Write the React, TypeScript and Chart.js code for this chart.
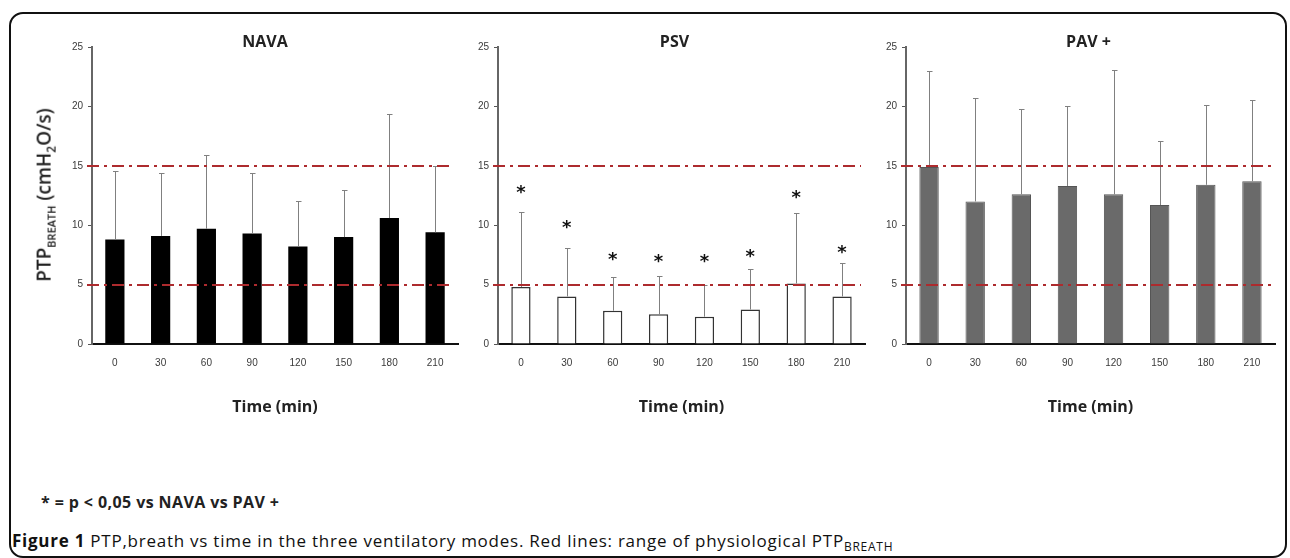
import React, { useEffect, useRef } from "react";
import { Chart, registerables } from "chart.js";

Chart.register(...registerables);

// ---- data ----
const timeLabels = ["0", "30", "60", "90", "120", "150", "180", "210"];
const yTicks = [0, 5, 10, 15, 20, 25];
const physioRange = [5, 15];

const navaMean = [8.8, 9.1, 9.7, 9.3, 8.2, 9.0, 10.6, 9.4];
const navaUpper = [14.6, 14.4, 15.9, 14.4, 12.0, 13.0, 19.4, 15.0];

const psvMean = [4.8, 4.0, 2.8, 2.5, 2.3, 2.9, 5.1, 4.0];
const psvUpper = [11.1, 8.1, 5.6, 5.7, 5.0, 6.3, 11.0, 6.8];
const psvStar = [13.0, 10.1, 7.4, 7.2, 7.2, 7.6, 12.6, 8.0];

const pavMean = [14.9, 12.0, 12.6, 13.3, 12.6, 11.7, 13.4, 13.7];
const pavUpper = [23.0, 20.7, 19.8, 20.0, 23.1, 17.1, 20.1, 20.5];

const FONT = '"Open Sans", "Liberation Sans", sans-serif';
const TICK_FONT = '"Liberation Sans", sans-serif';

const overlayPlugin = {
  id: "overlay",
  afterDatasetsDraw(chart: any, _args: any, opts: any) {
    const { ctx, chartArea, scales } = chart;
    const x = scales.x;
    const y = scales.y;
    ctx.save();
    // error bars
    ctx.strokeStyle = "#808080";
    ctx.lineWidth = 1;
    (opts.upper || []).forEach((u: number, i: number) => {
      const px = Math.round(x.getPixelForValue(i)) + 0.5;
      const py0 = y.getPixelForValue(opts.mean[i]);
      const py1 = Math.round(y.getPixelForValue(u)) + 0.5;
      ctx.beginPath();
      ctx.moveTo(px, py0);
      ctx.lineTo(px, py1);
      ctx.moveTo(px - 2.5, py1);
      ctx.lineTo(px + 3, py1);
      ctx.stroke();
    });
    // physiological range lines
    ctx.strokeStyle = "#ad2b2e";
    ctx.lineWidth = 2;
    ctx.setLineDash([12, 5, 3, 5]);
    (opts.lines || []).forEach((v: number) => {
      const py = Math.round(y.getPixelForValue(v));
      ctx.beginPath();
      ctx.moveTo(chartArea.left - 5, py);
      ctx.lineTo(chartArea.right - 4, py);
      ctx.stroke();
    });
    ctx.setLineDash([]);
    // significance stars
    if (opts.stars) {
      ctx.fillStyle = "#111";
      ctx.font = 'bold 18px "DejaVu Sans", sans-serif';
      ctx.textAlign = "center";
      ctx.textBaseline = "middle";
      opts.stars.forEach((v: number, i: number) => {
        const px = x.getPixelForValue(i);
        const py = y.getPixelForValue(v);
        ctx.fillText("*", px, py + 4);
      });
    }
    // panel title
    if (opts.title) {
      ctx.fillStyle = "#222";
      ctx.font = `bold 16px ${FONT}`;
      ctx.textAlign = "center";
      ctx.textBaseline = "middle";
      ctx.fillText(opts.title, (chartArea.left + chartArea.right) / 2 + (opts.titleDx || 0), 42);
    }
    ctx.restore();
  },
};

type PanelCfg = {
  title: string;
  titleDx: number;
  mean: number[];
  upper: number[];
  stars?: number[];
  fill: string;
  border: string;
  borderWidth: number;
  yWidth: number;
  padRight: number;
};

function makeChart(canvas: HTMLCanvasElement, cfg: PanelCfg) {
  return new Chart(canvas, {
    type: "bar",
    data: {
      labels: timeLabels,
      datasets: [
        {
          data: cfg.mean,
          backgroundColor: cfg.fill,
          borderColor: cfg.border,
          borderWidth: cfg.borderWidth,
          barPercentage: 0.42,
          categoryPercentage: 1,
        },
      ],
    },
    options: {
      responsive: false,
      animation: false,
      layout: { padding: { left: 0, right: cfg.padRight, top: 47, bottom: 0 } },
      plugins: {
        legend: { display: false },
        tooltip: { enabled: false },
        title: { display: false },
        overlay: {
          mean: cfg.mean,
          upper: cfg.upper,
          lines: physioRange,
          stars: cfg.stars,
          title: cfg.title,
          titleDx: cfg.titleDx,
        },
      } as any,
      scales: {
        x: {
          type: "category",
          grid: { display: false, drawTicks: false },
          border: { display: true, color: "#111", width: 2 },
          ticks: { color: "#3a3a3a", font: { family: TICK_FONT, size: 10 }, padding: 13, maxRotation: 0 },
          title: {
            display: true,
            text: "Time (min)",
            color: "#222",
            font: { family: FONT, size: 16, weight: "bold" },
            padding: { top: 0, bottom: 13 },
          },
          afterFit: (s: any) => {
            s.height = 86;
          },
        },
        y: {
          min: 0,
          max: 25,
          afterBuildTicks: (s: any) => {
            s.ticks = yTicks.map((v) => ({ value: v }));
          },
          grid: { drawOnChartArea: false, drawTicks: true, tickLength: 4, color: "#555" },
          border: { display: true, color: "#666", width: 2 },
          ticks: { color: "#3a3a3a", font: { family: TICK_FONT, size: 10 }, padding: 5 },
          afterFit: (s: any) => {
            s.width = cfg.yWidth;
          },
        },
      },
    } as any,
    plugins: [overlayPlugin],
  });
}

const panels: { left: number; width: number; cfg: PanelCfg }[] = [
  {
    left: 0,
    width: 470,
    cfg: { title: "NAVA", titleDx: -10, mean: navaMean, upper: navaUpper, fill: "#000", border: "#000", borderWidth: 0, yWidth: 92, padRight: 12 },
  },
  {
    left: 440,
    width: 440,
    cfg: { title: "PSV", titleDx: -7, mean: psvMean, upper: psvUpper, stars: psvStar, fill: "#fff", border: "#333", borderWidth: 1.5, yWidth: 58, padRight: 15 },
  },
  {
    left: 860,
    width: 430,
    cfg: { title: "PAV +", titleDx: -2, mean: pavMean, upper: pavUpper, fill: "#6a6a6a", border: "#555", borderWidth: 1, yWidth: 46, padRight: 15 },
  },
];

const CH = 430;

export default function App() {
  const refs = [useRef<HTMLCanvasElement>(null), useRef<HTMLCanvasElement>(null), useRef<HTMLCanvasElement>(null)];

  useEffect(() => {
    const charts = panels.map((p, i) => makeChart(refs[i].current as HTMLCanvasElement, p.cfg));
    return () => charts.forEach((c) => c.destroy());
  }, []);

  return (
    <div style={{ position: "absolute", left: 0, top: 0, width: 1290, height: 558, overflow: "hidden", background: "#fff" }}>
      <div
        style={{
          position: "absolute",
          left: 9,
          top: 12,
          width: 1278,
          height: 546,
          border: "2px solid #111",
          borderRadius: 14,
          boxSizing: "border-box",
        }}
      />
      {panels.map((p, i) => (
        <canvas
          key={i}
          ref={refs[i]}
          width={p.width}
          height={CH}
          style={{ position: "absolute", left: p.left, top: 0, width: p.width, height: CH }}
        />
      ))}
      <div
        style={{
          position: "absolute",
          left: 46,
          top: 195,
          transform: "translate(-50%, -50%) rotate(-90deg)",
          whiteSpace: "nowrap",
          fontFamily: FONT,
          fontSize: 19,
          fontWeight: 600,
          color: "#222",
          lineHeight: 1,
        }}
      >
        PTP<sub style={{ fontSize: 11 }}>BREATH</sub> (cmH<sub style={{ fontSize: 12 }}>2</sub>O/s)
      </div>
      <div
        style={{
          position: "absolute",
          left: 41,
          top: 491,
          whiteSpace: "nowrap",
          fontFamily: FONT,
          fontSize: 16,
          letterSpacing: 0.4,
          fontWeight: 700,
          color: "#222",
          lineHeight: "22px",
        }}
      >
        * = p &lt; 0,05 vs NAVA vs PAV +
      </div>
      <div
        style={{
          position: "absolute",
          left: 12,
          top: 529,
          whiteSpace: "nowrap",
          fontFamily: FONT,
          fontSize: 17,
          letterSpacing: 0.75,
          color: "#111",
          lineHeight: "24px",
        }}
      >
        <b>Figure 1</b> PTP,breath vs time in the three ventilatory modes. Red lines: range of physiological PTP
        <sub style={{ fontSize: 12 }}>BREATH</sub>
      </div>
    </div>
  );
}
